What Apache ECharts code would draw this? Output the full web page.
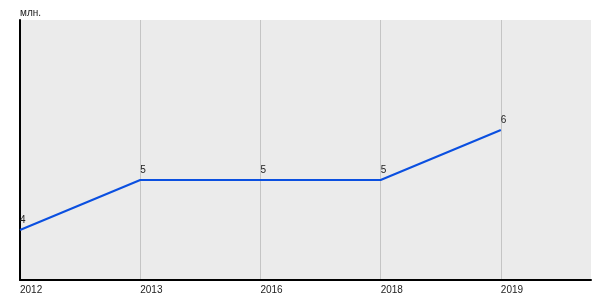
<!DOCTYPE html>
<html><head><meta charset="utf-8">
<script src="https://cdn.jsdelivr.net/npm/echarts@6/dist/echarts.min.js"></script>
<style>html,body{margin:0;padding:0;background:#fff}#c{width:600px;height:300px}</style>
</head><body><div id="c"></div>
<script>
var years = ['2012', '2013', '2016', '2018', '2019'];
var values = [4, 5, 5, 5, 6];
var unitLabel = 'млн.';

var chart = echarts.init(document.getElementById('c'), null, {renderer: 'canvas'});
chart.setOption({
  animation: false,
  backgroundColor: '#ffffff',
  textStyle: {fontFamily: 'Liberation Sans, Arial, sans-serif'},
  title: {
    text: unitLabel, left: 15, top: 3,
    textStyle: {fontSize: 10, fontWeight: 'normal', color: '#222', fontFamily: 'Liberation Sans, Arial, sans-serif'}
  },
  grid: {left: 20, right: 9, top: 20, bottom: 20, show: true, backgroundColor: '#ebebeb', borderWidth: 0},
  xAxis: {
    type: 'value', min: 0, max: 4.75, interval: 1,
    axisLine: {show: true, onZero: false, lineStyle: {color: '#000', width: 2}},
    axisTick: {show: false},
    splitLine: {show: true, showMinLine: false, showMaxLine: false, lineStyle: {color: '#c4c4c4', width: 1}},
    axisLabel: {
      show: true, align: 'left', margin: 5, fontSize: 10, color: '#222',
      showMaxLabel: false,
      formatter: function (v) { return Number.isInteger(v) && years[v] !== undefined ? years[v] : ''; }
    }
  },
  yAxis: {
    type: 'value', min: 3, max: 8.2,
    axisLine: {show: true, lineStyle: {color: '#000', width: 2}},
    axisTick: {show: false}, axisLabel: {show: false}, splitLine: {show: false}
  },
  series: [{
    type: 'line',
    data: values.map(function (v, i) { return [i, v]; }),
    symbol: 'circle', symbolSize: 2, showSymbol: true,
    itemStyle: {color: 'rgba(0,0,0,0)', borderWidth: 0},
    lineStyle: {color: '#0a4fe0', width: 2},
    label: {
      show: true, position: 'top', align: 'left', distance: 4, fontSize: 10, color: '#222',
      formatter: function (p) { return p.value[1]; }
    },
    labelLayout: {hideOverlap: false}
  }]
});
</script></body></html>
